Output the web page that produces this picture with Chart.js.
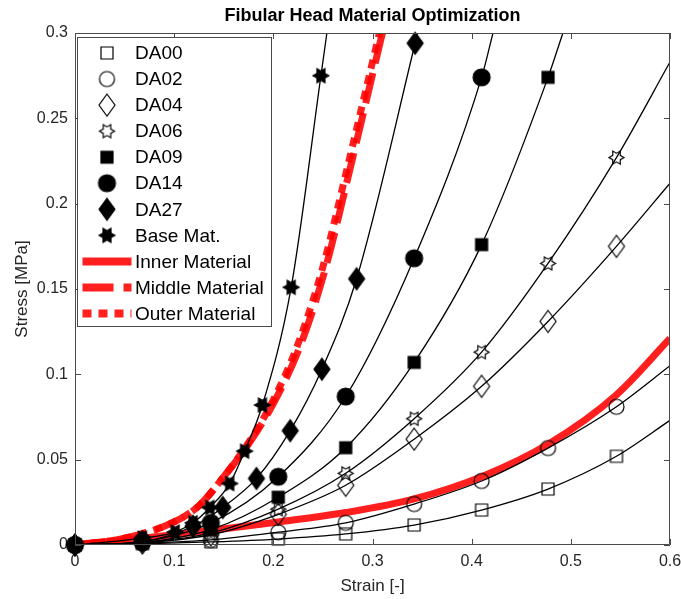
<!DOCTYPE html>
<html><head><meta charset="utf-8">
<script src="https://cdn.jsdelivr.net/npm/chart.js@4.4.0/dist/chart.umd.min.js"></script>
<style>html,body{margin:0;padding:0;background:#fff;overflow:hidden}#wrap{width:681px;height:599px}</style>
</head><body><div id="wrap"><canvas id="c" width="681" height="599"></canvas></div>
<script>
// ---------- data ----------
const chartTitle = 'Fibular Head Material Optimization';
const xTicks = [0, 0.1, 0.2, 0.3, 0.4, 0.5, 0.6];
const xTickLabels = ['0', '0.1', '0.2', '0.3', '0.4', '0.5', '0.6'];
const yTicks = [0, 0.05, 0.1, 0.15, 0.2, 0.25, 0.3];
const yTickLabels = ['0', '0.05', '0.1', '0.15', '0.2', '0.25', '0.3'];

const seriesNames = ['DA00', 'DA02', 'DA04', 'DA06', 'DA09', 'DA14', 'DA27', 'Base Mat.'];
const redNames = ['Inner Material', 'Middle Material', 'Outer Material'];

const strainDA = [0, 0.068, 0.137, 0.205, 0.273, 0.342, 0.41, 0.477, 0.546];
const stressDA00 = [0, 0.0007, 0.0018, 0.0035, 0.0065, 0.0117, 0.0205, 0.0328, 0.052];
const stressDA02 = [0, 0.001, 0.003, 0.0075, 0.013, 0.024, 0.0375, 0.0568, 0.081];
const stressDA04 = [0, 0.0012, 0.006, 0.018, 0.035, 0.062, 0.093, 0.131, 0.175];
const stressDA06 = [0, 0.0015, 0.007, 0.021, 0.042, 0.074, 0.113, 0.165, 0.227];
const strainDA09 = [0, 0.068, 0.137, 0.205, 0.273, 0.342, 0.41, 0.477];
const stressDA09 = [0, 0.0015, 0.009, 0.028, 0.057, 0.107, 0.176, 0.274];
const strainDA14 = [0, 0.068, 0.137, 0.205, 0.273, 0.342, 0.41];
const stressDA14 = [0, 0.002, 0.013, 0.040, 0.087, 0.168, 0.274];
const strainDA27 = [0, 0.068, 0.119, 0.149, 0.183, 0.217, 0.249, 0.284, 0.343];
const stressDA27 = [0, 0.002, 0.011, 0.022, 0.039, 0.067, 0.103, 0.156, 0.294];
const strainBase = [0, 0.068, 0.101, 0.119, 0.136, 0.156, 0.171, 0.189, 0.218, 0.248];
const stressBase = [0, 0.004, 0.0076, 0.013, 0.022, 0.036, 0.055, 0.082, 0.151, 0.275];

// where each fitted black curve leaves the plot (right edge or top edge)
const fitEndStrain = [0.6, 0.6, 0.6, 0.6, 0.492, 0.4215, 0.3455, 0.254];
const fitEndStress = [0.073, 0.105, 0.212, 0.283, 0.3, 0.3, 0.3, 0.3];

// red material curves
const strainInner = [0, 0.068, 0.137, 0.205, 0.273, 0.342, 0.41, 0.477, 0.546, 0.6];
const stressInner = [0, 0.004, 0.0085, 0.0135, 0.019, 0.027, 0.040, 0.059, 0.088, 0.121];
const strainMiddle = [0, 0.05, 0.1, 0.125, 0.15, 0.176, 0.202, 0.228, 0.253, 0.278, 0.303, 0.31];
const stressMiddle = [0, 0.004, 0.0135, 0.023, 0.04, 0.06, 0.085, 0.118, 0.163, 0.222, 0.283, 0.3];
const strainOuter = [0, 0.05, 0.1, 0.125, 0.15, 0.175, 0.2, 0.225, 0.25, 0.275, 0.3, 0.307];
const stressOuter = [0, 0.004, 0.0135, 0.023, 0.04, 0.06, 0.085, 0.118, 0.163, 0.222, 0.283, 0.3];

// ---------- helpers ----------
const FONT = '"Liberation Sans", Arial, Helvetica, sans-serif';
function pts(xs, ys) { return xs.map((x, i) => ({ x: x, y: ys[i] })); }

function makeMarker(shape, filled, w, h) {
  const pad = 3;
  const c = document.createElement('canvas');
  c.width = Math.ceil(w + pad * 2); c.height = Math.ceil(h + pad * 2);
  const g = c.getContext('2d');
  const cx = c.width / 2, cy = c.height / 2;
  g.beginPath();
  if (shape === 'square') g.rect(cx - w / 2, cy - h / 2, w, h);
  else if (shape === 'circle') g.arc(cx, cy, w / 2, 0, Math.PI * 2);
  else if (shape === 'diamond') {
    g.moveTo(cx, cy - h / 2); g.lineTo(cx + w / 2, cy); g.lineTo(cx, cy + h / 2); g.lineTo(cx - w / 2, cy); g.closePath();
  } else if (shape === 'hexagram') {
    const R = w / 2, r = R / Math.sqrt(3);
    for (let i = 0; i < 12; i++) {
      const a = i * Math.PI / 6, rr = (i % 2 === 0) ? R : r;
      const px = cx + rr * Math.cos(a), py = cy + rr * Math.sin(a);
      if (i) g.lineTo(px, py); else g.moveTo(px, py);
    }
    g.closePath();
  }
  g.lineWidth = 1.2; g.strokeStyle = '#000';
  if (filled) { g.fillStyle = '#000'; g.fill(); }
  g.stroke();
  return c;
}

const markers = [
  makeMarker('square', false, 12, 12),
  makeMarker('circle', false, 15, 15),
  makeMarker('diamond', false, 16, 22),
  makeMarker('hexagram', false, 15, 15),
  makeMarker('square', true, 12, 12),
  makeMarker('circle', true, 17, 17),
  makeMarker('diamond', true, 16, 22),
  makeMarker('hexagram', true, 16, 16)
];

const markerStrains = [strainDA, strainDA, strainDA, strainDA, strainDA09, strainDA14, strainDA27, strainBase];
const markerStress = [stressDA00, stressDA02, stressDA04, stressDA06, stressDA09, stressDA14, stressDA27, stressBase];

const datasets = [];
seriesNames.forEach((name, i) => {
  datasets.push({
    label: name, inLegend: true, kind: 'marker',
    data: pts(markerStrains[i], markerStress[i]),
    showLine: false, pointStyle: markers[i], pointRadius: 9,
    pointBorderWidth: 0, clip: false
  });
});
seriesNames.forEach((name, i) => {
  datasets.push({
    label: name + ' fit', inLegend: false,
    data: pts(markerStrains[i].concat([fitEndStrain[i]]), markerStress[i].concat([fitEndStress[i]])),
    showLine: true, pointRadius: 0, borderColor: '#000', borderWidth: 1.3,
    cubicInterpolationMode: 'monotone', fill: false
  });
});
const redStrain = [strainInner, strainMiddle, strainOuter];
const redStress = [stressInner, stressMiddle, stressOuter];
const redDash = [[], [31, 10], [9, 7]];
redNames.forEach((name, i) => {
  datasets.push({
    label: name, inLegend: true, kind: 'line',
    data: pts(redStrain[i], redStress[i]),
    showLine: true, pointRadius: 0, borderColor: 'rgba(255,0,0,0.88)', borderWidth: 7,
    borderDash: redDash[i], borderCapStyle: 'butt',
    cubicInterpolationMode: 'monotone', fill: false
  });
});

// ---------- plugins ----------
const AXIS_COLOR = '#4a4a4a';
const boxPlugin = {
  id: 'matlabBox',
  afterDatasetsDraw(chart) {
    const { ctx, chartArea: a, scales } = chart;
    ctx.save();
    ctx.strokeStyle = AXIS_COLOR; ctx.lineWidth = 1;
    ctx.beginPath();
    ctx.rect(Math.round(a.left) + 0.5, Math.round(a.top) + 0.5, Math.round(a.right - a.left) - 1, Math.round(a.bottom - a.top) - 1);
    const tl = 6;
    scales.x.ticks.forEach(t => {
      const px = Math.round(scales.x.getPixelForValue(t.value)) + 0.5;
      ctx.moveTo(px, a.bottom); ctx.lineTo(px, a.bottom - tl);
      ctx.moveTo(px, a.top); ctx.lineTo(px, a.top + tl);
    });
    scales.y.ticks.forEach(t => {
      const py = Math.round(scales.y.getPixelForValue(t.value)) + 0.5;
      ctx.moveTo(a.left, py); ctx.lineTo(a.left + tl, py);
      ctx.moveTo(a.right, py); ctx.lineTo(a.right - tl, py);
    });
    ctx.stroke();
    ctx.fillStyle = '#000';
    ctx.font = 'bold 18px ' + FONT;
    ctx.textAlign = 'center'; ctx.textBaseline = 'middle';
    ctx.fillText(chartTitle, (a.left + a.right) / 2, 16);
    ctx.restore();
  }
};

const legendPlugin = {
  id: 'matlabLegend',
  afterDraw(chart) {
    const { ctx, chartArea: a } = chart;
    const items = chart.data.datasets.filter(d => d.inLegend);
    const bx = Math.round(a.left) + 2.5, by = Math.round(a.top) + 4.5;
    const bw = 194, rowH = 26.05, bh = 289;
    ctx.save();
    ctx.fillStyle = '#fff';
    ctx.fillRect(bx, by, bw, bh);
    ctx.strokeStyle = AXIS_COLOR; ctx.lineWidth = 1;
    ctx.strokeRect(bx, by, bw, bh);
    ctx.font = '19px ' + FONT;
    ctx.textBaseline = 'middle'; ctx.textAlign = 'left';
    items.forEach((d, i) => {
      const cy = by + 15.5 + i * rowH;
      if (d.kind === 'marker') {
        const img = d.pointStyle;
        ctx.drawImage(img, bx + 29.5 - img.width / 2, cy - img.height / 2);
      } else {
        ctx.save();
        ctx.strokeStyle = d.borderColor; ctx.lineWidth = 8; ctx.lineCap = 'butt';
        ctx.setLineDash(d.borderDash || []);
        ctx.beginPath(); ctx.moveTo(bx + 5, cy); ctx.lineTo(bx + 54, cy); ctx.stroke();
        ctx.restore();
      }
      ctx.fillStyle = '#000';
      ctx.fillText(d.label, bx + 57.5, cy + 1);
    });
    ctx.restore();
  }
};

function labelFor(values, labels, v) {
  const i = values.findIndex(t => Math.abs(t - v) < 1e-9);
  return i >= 0 ? labels[i] : '';
}

new Chart(document.getElementById('c'), {
  type: 'scatter',
  data: { datasets: datasets },
  options: {
    responsive: false, animation: false, events: [],
    layout: { padding: { left: 0, right: 11, top: 33, bottom: 0 } },
    plugins: {
      legend: { display: false }, tooltip: { enabled: false }, title: { display: false }
    },
    scales: {
      x: {
        type: 'linear', min: 0, max: 0.6,
        afterBuildTicks: s => { s.ticks = xTicks.map(v => ({ value: v })); },
        afterFit: s => { s.height = 54; s.paddingLeft = 0; s.paddingRight = 0; },
        ticks: { callback: v => labelFor(xTicks, xTickLabels, v), color: '#262626', font: { family: FONT, size: 16 }, padding: 7, maxRotation: 0, autoSkip: false },
        grid: { display: false, drawTicks: false }, border: { display: false },
        title: { display: true, text: 'Strain [-]', color: '#262626', font: { family: FONT, size: 17 }, padding: { top: 0, bottom: 2 } }
      },
      y: {
        type: 'linear', min: 0, max: 0.3,
        afterBuildTicks: s => { s.ticks = yTicks.map(v => ({ value: v })); },
        afterFit: s => { s.width = 75; s.paddingTop = 0; s.paddingBottom = 0; },
        ticks: { callback: v => labelFor(yTicks, yTickLabels, v), color: '#262626', font: { family: FONT, size: 16 }, padding: 7, autoSkip: false },
        grid: { display: false, drawTicks: false }, border: { display: false },
        title: { display: true, text: 'Stress [MPa]', color: '#262626', font: { family: FONT, size: 17 }, padding: { top: 12, bottom: 0 } }
      }
    }
  },
  plugins: [boxPlugin, legendPlugin]
});
</script></body></html>
